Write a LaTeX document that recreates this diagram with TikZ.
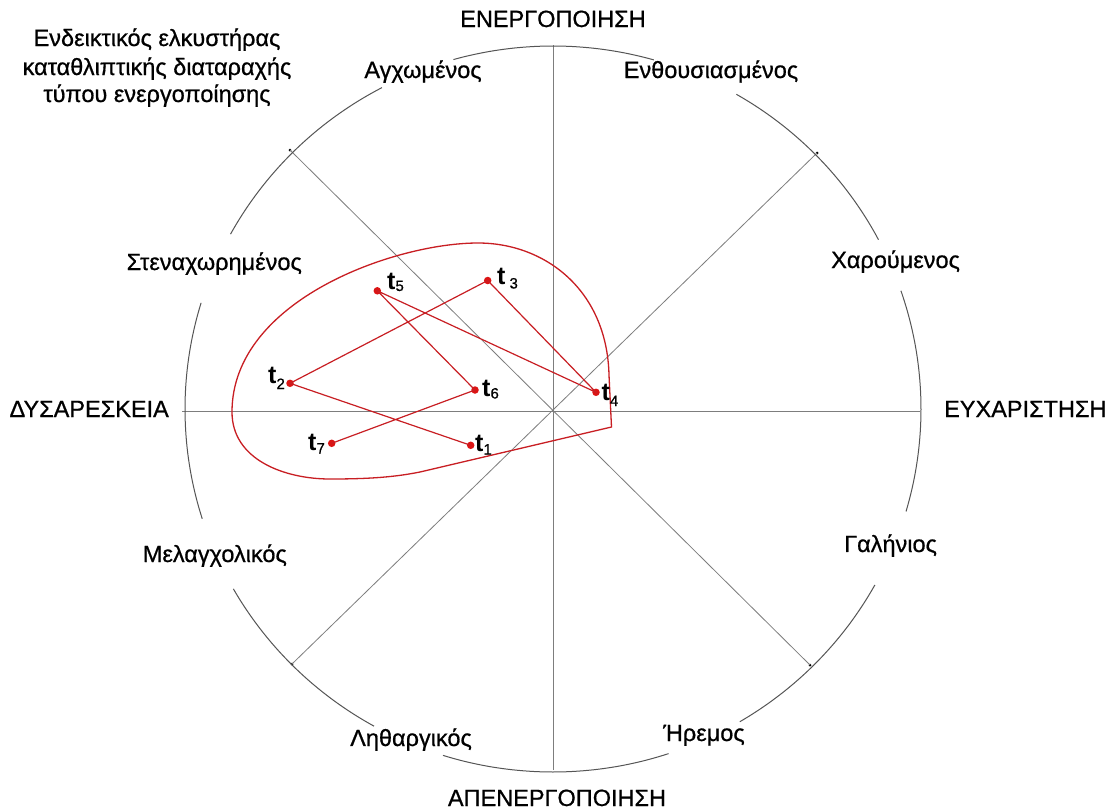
\documentclass[tikz,border=0pt]{standalone}
\usepackage{fontspec}
\setmainfont{Liberation Sans}
\newfontfamily\heavysans{Liberation Sans}[FakeBold=0.7]
\definecolor{axisgray}{RGB}{125,125,125}
\definecolor{rimgray}{RGB}{85,85,85}
\definecolor{ptred}{RGB}{220,20,20}
\definecolor{trailred}{RGB}{200,30,35}
% time-step label: bold t with a lowered index
\newcommand\tstep[3][0pt]{\textbf{t}\hspace{#1}\raisebox{-#2}{\fontsize{15}{15}\selectfont\heavysans #3}}
% one stretch of the outer ring, between two angles
\newcommand\rimarc[2]{\draw[rim] plot[domain=#1:#2,samples=40] ({553+368*cos(\x)},{409-363*sin(\x)});}
\begin{document}
\begin{tikzpicture}[x=1pt,y=-1pt,
  axis/.style={draw=axisgray, line width=0.9pt},
  rim/.style={draw=rimgray, line width=1pt},
  tick/.style={circle, fill=black, inner sep=0pt, minimum size=3pt},
  lbl/.style={inner sep=0pt, font=\fontsize{23.5}{28}\selectfont\heavysans},
  tpt/.style={circle, fill=ptred, inner sep=0pt, minimum size=7.5pt},
  tlbl/.style={inner sep=0pt, anchor=base west, font=\fontsize{25}{28}\selectfont},
  trail/.style={draw=trailred, line width=1.3pt},
  link/.style={draw=trailred, line width=1.2pt}]
\useasboundingbox (0,0) rectangle (1109,809);
\fill[white] (0,0) rectangle (1109,809);

% axes
\coordinate (xl) at (182,411);
\coordinate (xr) at (920,411);
\coordinate (yt) at (553,45);
\coordinate (yb) at (553,770);
\draw[axis] (xl) -- (xr);
\draw[axis] (yt) -- (yb);

% diagonals with end ticks
\node[tick] (nw) at (290,150) {};
\node[tick] (se) at (810,665) {};
\node[tick] (ne) at (817,153) {};
\node[tick] (sw) at (292,664) {};
\draw[axis, line width=0.8pt] (nw.center) -- (se.center);
\draw[axis, line width=0.8pt] (ne.center) -- (sw.center);

% outer ring, broken around the labels
\rimarc{74.1}{105.7}
\rimarc{117.7}{151.2}
\rimarc{27.8}{60.1}
\rimarc{163}{197.6}
\rimarc{-16.4}{19}
\rimarc{209.7}{240.9}
\rimarc{252.6}{288.3}
\rimarc{300.5}{331}

% labels
\node[lbl, anchor=base] (act) at (553,27) {ΕΝΕΡΓΟΠΟΙΗΣΗ};
\node[lbl, anchor=base] (deact) at (557,806) {ΑΠΕΝΕΡΓΟΠΟΙΗΣΗ};
\node[lbl, anchor=base east] (unpl) at (169,417) {ΔΥΣΑΡΕΣΚΕΙΑ};
\node[lbl, anchor=base west] (pl) at (944,417) {ΕΥΧΑΡΙΣΤΗΣΗ};
\node[lbl, anchor=base] (tense) at (423,78) {Αγχωμένος};
\node[lbl, anchor=base] (excited) at (711,78) {Ενθουσιασμένος};
\node[lbl, anchor=base east] (upset) at (302,270) {Στεναχωρημένος};
\node[lbl, anchor=base west] (happy) at (831,268) {Χαρούμενος};
\node[lbl, anchor=base east] (sad) at (287,562) {Μελαγχολικός};
\node[lbl, anchor=base west] (serene) at (844,552) {Γαλήνιος};
\node[lbl, anchor=base west] (lethargic) at (350,746) {Ληθαργικός};
\node[lbl, anchor=base west] (calm) at (663,741) {Ήρεμος};
\node[lbl, anchor=base] (title1) at (157,46) {Ενδεικτικός ελκυστήρας};
\node[lbl, anchor=base] (title2) at (157,75) {καταθλιπτικής διαταραχής};
\node[lbl, anchor=base] (title3) at (157,102) {τύπου ενεργοποίησης};

% attractor outline
\draw[trail] (611.5,427) -- (609,375)
  .. controls (607,290) and (545,243) .. (478,243)
  .. controls (395,243) and (232,300) .. (232,412)
  .. controls (232,460) and (285,479) .. (330,479)
  .. controls (370,479) and (395,477) .. (420,472)
  -- cycle;

% trajectory points
\node[tpt] (p1) at (470.7,445.3) {};
\node[tpt] (p2) at (290,383.3) {};
\node[tpt] (p3) at (487.7,280.5) {};
\node[tpt] (p4) at (596,392.3) {};
\node[tpt] (p5) at (377.3,290.8) {};
\node[tpt] (p6) at (475,390) {};
\node[tpt] (p7) at (331.7,443.3) {};

\draw[link] (p1.center) -- (p2.center) -- (p3.center) -- (p4.center)
  -- (p5.center) -- (p6.center) -- (p7.center);

\node[tlbl] (l1) at (475,451.5) {\tstep{3pt}{1}};
\node[tlbl] (l2) at (268,383) {\tstep{6pt}{2}};
\node[tlbl] (l3) at (497,284.5) {\tstep[4pt]{4pt}{3}};
\node[tlbl] (l4) at (601.5,400) {\tstep{6pt}{4}};
\node[tlbl] (l5) at (387,289) {\tstep{2pt}{5}};
\node[tlbl] (l6) at (482,396.5) {\tstep{2pt}{6}};
\node[tlbl] (l7) at (308,450.5) {\tstep{3pt}{7}};
\end{tikzpicture}
\end{document}
